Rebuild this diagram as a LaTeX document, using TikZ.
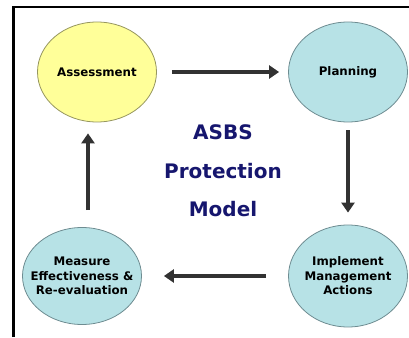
\documentclass[tikz,border=0pt]{standalone}
\usepackage{fontspec}
\setmainfont{DejaVu Sans}
\usetikzlibrary{shapes.geometric, arrows.meta}
\usetikzlibrary{positioning}
\definecolor{stageyellow}{RGB}{255,255,153}
\definecolor{stageyellowline}{RGB}{150,150,95}
\definecolor{stageblue}{RGB}{183,226,230}
\definecolor{stageblueline}{RGB}{110,140,145}
\definecolor{modelnavy}{RGB}{22,22,110}
\definecolor{arrowgrey}{RGB}{50,50,50}
\tikzstyle{stage} = [ellipse, minimum width=119pt, minimum height=100pt, inner sep=0pt, draw=stageblueline, fill=stageblue, line width=0.8pt]
\tikzstyle{stagetext} = [font=\bfseries\fontsize{11.8}{14.5}\selectfont, align=center, inner sep=0pt]
\tikzstyle{arrow} = [draw=arrowgrey, line width=3.5pt, -{Triangle[length=10pt,width=13pt]}]

\begin{document}
\begin{tikzpicture}[x=1pt, y=1pt, node distance=2cm]
 \useasboundingbox (0,0) rectangle (409,337);
 \draw [line width=2.5pt] (13.5,0) -- (13.5,330) -- (409,330);

 \node (assess) [stage, fill=stageyellow, draw=stageyellowline, label={[stagetext]center:Assessment}] at (97,265) {};
 \node (plan) [stage, right of=assess, node distance=251pt, label={[stagetext]center:Planning}] {};
 \node (impl) [stage, below of=plan, node distance=204pt, minimum height=102pt, label={[stagetext]center:Implement\\Management\\Actions}] {};
 \node (meas) [stage, left of=impl, node distance=266pt, minimum height=97pt, label={[stagetext]center:Measure\\Effectiveness \&\\Re-evaluation}] {};

 \node (model) [font=\bfseries\fontsize{20}{38.5}\selectfont, text=modelnavy, align=center] at (223,166) {ASBS\\Protection\\Model};

 \draw [arrow, shorten <=15pt, shorten >=9pt] (assess.east) -- (assess.east -| plan.west);
 \draw [arrow, shorten <=8pt, shorten >=12pt] (plan.south) -- (plan.south |- impl.north);
 \draw [arrow, shorten <=22pt, shorten >=22pt] (impl.west) -- (impl.west -| meas.east);
 \draw [arrow, shorten <=17pt, shorten >=11pt] ([xshift=6pt]meas.north) -- ([xshift=6pt]meas.north |- assess.south);
\end{tikzpicture}
\end{document}
